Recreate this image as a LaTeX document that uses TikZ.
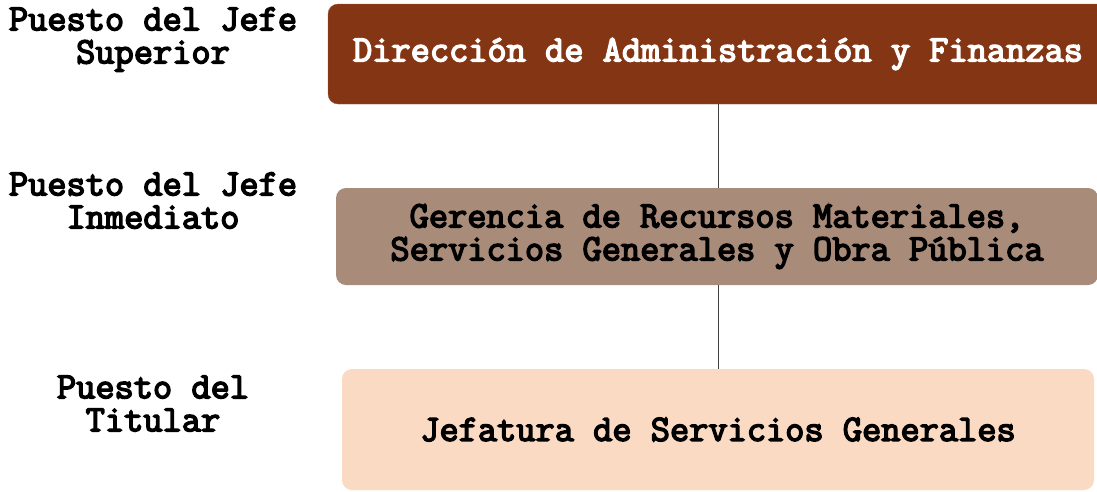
\documentclass[tikz,border=0pt]{standalone}
\usepackage{fontspec}
\newfontfamily\slabmono[BoldFont={Latin Modern Mono}, BoldFeatures={FakeBold=4}]{Latin Modern Mono}
\definecolor{dirbrown}{HTML}{843514}
\definecolor{gerbrown}{HTML}{A88B78}
\definecolor{jefpeach}{HTML}{FBDAC4}
\definecolor{lnkgray}{HTML}{404040}
\begin{document}
\begin{tikzpicture}[x=1pt, y=-1pt, font=\slabmono\bfseries\fontsize{37.3}{33}\selectfont]
\tikzstyle{box}=[rounded corners=10pt, inner sep=0pt, align=center]
\tikzstyle{lbl}=[align=center, inner sep=0pt]
\useasboundingbox (0,0) rectangle (1097,491);
    \node [lbl] (lsup) at (153,39.5) {Puesto del Jefe\\Superior};
    \node [lbl] (linm) at (153,200.5) {Puesto del Jefe\\Inmediato};
    \node [lbl] (ltit) at (153,403.5) {Puesto del\\Titular};
    \node [box, fill=dirbrown, draw=dirbrown!80!white, text=white, minimum width=780pt, minimum height=100pt] (dir) at (718,54) {Dirección de Administración y Finanzas};
    \node [box, fill=gerbrown, minimum width=762pt, minimum height=97pt] (ger) at (717,236.5) {Gerencia de Recursos Materiales,\\Servicios Generales y Obra Pública};
    \node [box, fill=jefpeach, minimum width=752pt, minimum height=121pt] (jef) at (718,429.5) {Jefatura de Servicios Generales};
    \draw [lnkgray, line width=1pt] (dir.south -| 718,0) -- (ger.north -| 718,0);
    \draw [lnkgray, line width=1pt] (ger.south -| 718,0) -- (jef.north -| 718,0);
\end{tikzpicture}
\end{document}
